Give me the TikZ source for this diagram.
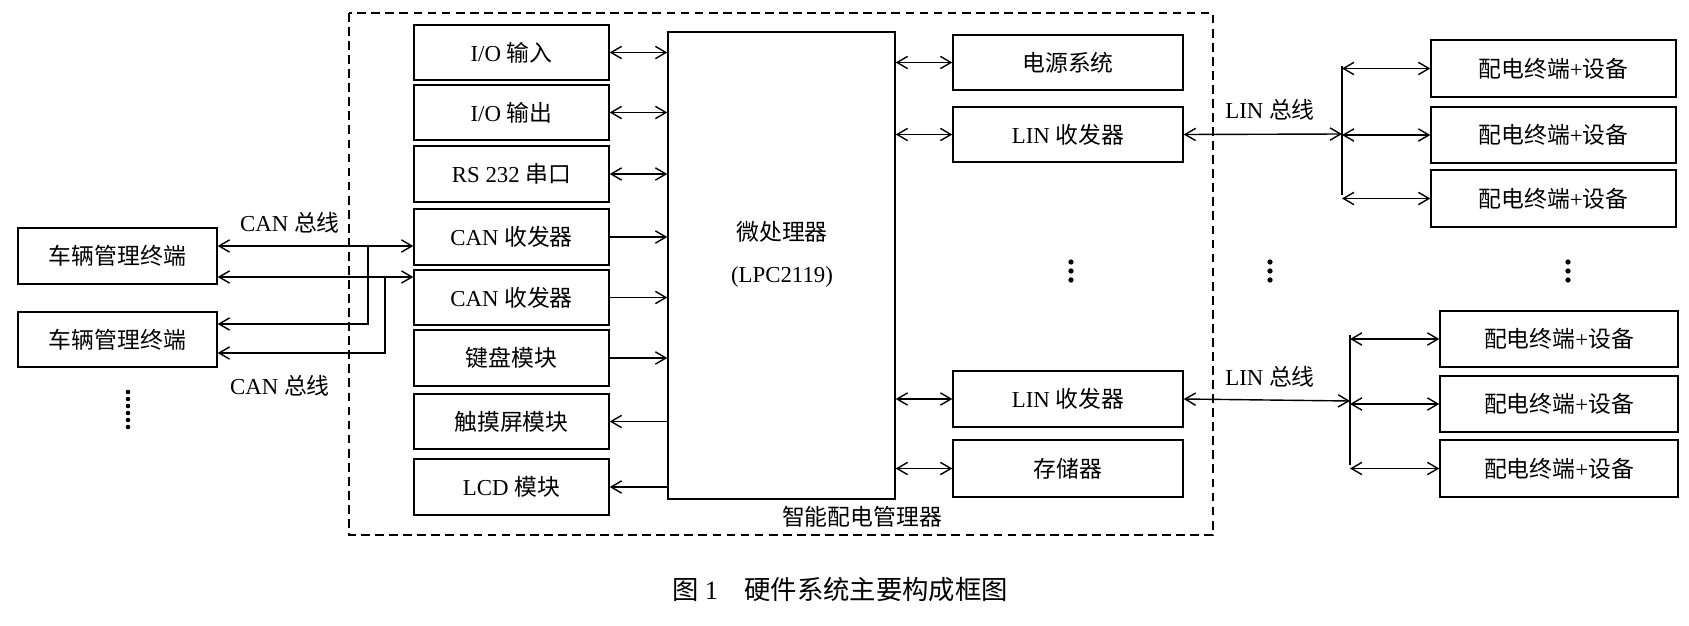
\documentclass[tikz,border=0pt]{standalone}
\usepackage{fontspec}
\setmainfont{Liberation Serif}
\newfontfamily\cjk{Noto Sans CJK SC}
\newcommand{\zh}[1]{{\cjk #1}}
\usetikzlibrary{arrows.meta}
\tikzset{
  blk/.style={draw, line width=0.8pt, inner sep=0pt, font=\fontsize{13}{15}\selectfont},
  lnk/.style={line width=0.8pt, {Straight Barb[length=6pt,width=7pt]}-{Straight Barb[length=6pt,width=7pt]}},
  to/.style={line width=0.8pt, -{Straight Barb[length=6pt,width=7pt]}},
  lbl/.style={font=\fontsize{13}{15}\selectfont}
}
\newcommand{\blkbox}[6]{% name, x1, y1, x2, y2, text
  \node[blk, minimum width=(#4-#2)*0.02cm, minimum height=(#5-#3)*0.02cm] (#1) at ({(#2+#4)/2},{(#3+#5)/2}) {#6};}
\begin{document}
\begin{tikzpicture}[x=0.02cm,y=-0.02cm]
\useasboundingbox (0,0) rectangle (1689,625);
% manager frame
\draw[dashed, line width=0.8pt, dash pattern=on 5pt off 3pt] (349,13) rectangle (1213,535);
\node[lbl] at (862,517) {\zh{智能配电管理器}};
%
\blkbox{cpu}{668}{32}{895}{499}{}
\node[lbl] at (782,232) {\zh{微处理器}};
\node[lbl] at (782,277) {(LPC2119)};
% left modules
\blkbox{ioi}{414}{25}{609}{80}{I/O \zh{输入}}
\blkbox{ioo}{414}{85}{609}{140}{I/O \zh{输出}}
\blkbox{rs}{414}{146}{609}{202}{RS 232 \zh{串口}}
\blkbox{cana}{414}{209}{609}{265}{CAN \zh{收发器}}
\blkbox{canb}{414}{270}{609}{325}{CAN \zh{收发器}}
\blkbox{kb}{414}{330}{609}{386}{\zh{键盘模块}}
\blkbox{ts}{414}{394}{609}{449}{\zh{触摸屏模块}}
\blkbox{lcd}{414}{459}{609}{515}{LCD \zh{模块}}
\foreach \n in {ioi,ioo,rs}
  \draw[lnk] (\n.east) -- (\n.east -| cpu.west);
\foreach \n in {cana,canb,kb}
  \draw[to] (\n.east) -- (\n.east -| cpu.west);
\foreach \n in {ts,lcd}
  \draw[to] (\n.east -| cpu.west) -- (\n.east);
% right modules
\blkbox{pwr}{953}{35}{1183}{90}{\zh{电源系统}}
\blkbox{lina}{953}{107}{1183}{162}{LIN \zh{收发器}}
\blkbox{linb}{953}{371}{1183}{427}{LIN \zh{收发器}}
\blkbox{mem}{953}{440}{1183}{497}{\zh{存储器}}
\foreach \n in {pwr,lina,linb,mem}
  \draw[lnk] (\n.west -| cpu.east) -- (\n.west);
% vehicle terminals
\blkbox{veha}{18}{228}{217}{284}{\zh{车辆管理终端}}
\blkbox{vehb}{18}{312}{217}{367}{\zh{车辆管理终端}}
\coordinate (ca) at (368,246);
\coordinate (cb) at (385,277);
\draw[lnk] (veha.east |- ca) -- (cana.west |- ca);
\draw[lnk] (veha.east |- cb) -- (canb.west |- cb);
\draw[to] (ca) |- (vehb.east |- 0,324);
\draw[to] (cb) |- (vehb.east |- 0,353);
\node[lbl] at (290,223) {CAN \zh{总线}};
\node[lbl] at (280,386) {CAN \zh{总线}};
\foreach \y in {392,399,...,428} \fill (128,\y) circle (1.3pt);
% LIN buses
\blkbox{ta}{1431}{40}{1676}{97}{\zh{配电终端}+\zh{设备}}
\blkbox{tb}{1431}{107}{1676}{163}{\zh{配电终端}+\zh{设备}}
\blkbox{tc}{1431}{170}{1676}{227}{\zh{配电终端}+\zh{设备}}
\blkbox{td}{1440}{311}{1678}{367}{\zh{配电终端}+\zh{设备}}
\blkbox{te}{1440}{376}{1678}{432}{\zh{配电终端}+\zh{设备}}
\blkbox{tf}{1440}{440}{1678}{497}{\zh{配电终端}+\zh{设备}}
\coordinate (busa) at (1342,134);
\coordinate (busb) at (1350,401);
\draw[line width=0.8pt] (1342,66) -- (1342,195);
\draw[line width=0.8pt] (1350,335) -- (1350,465);
\draw[lnk] (lina.east) -- (busa);
\draw[lnk] (linb.east) -- (busb);
\foreach \t in {ta,tb,tc} \draw[lnk] (1342,0 |- \t.west) -- (\t.west);
\foreach \t in {td,te,tf} \draw[lnk] (1350,0 |- \t.west) -- (\t.west);
\node[lbl] at (1270,110) {LIN \zh{总线}};
\node[lbl] at (1270,377) {LIN \zh{总线}};
\foreach \x in {1071,1270,1568} \foreach \y in {262,271,280} \fill (\x,\y) circle (1.5pt);
% caption
\node[font=\fontsize{15}{18}\selectfont] at (840,590) {\zh{图} 1\quad \zh{硬件系统主要构成框图}};
\end{tikzpicture}
\end{document}
